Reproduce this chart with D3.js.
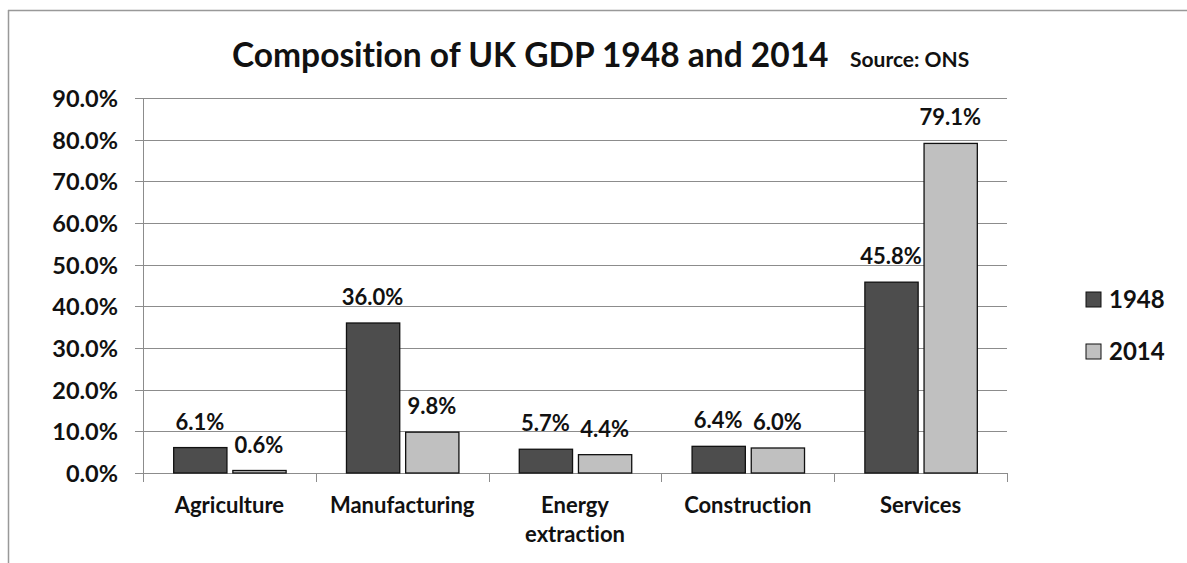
<!DOCTYPE html>
<html>
<head>
<meta charset="utf-8">
<script src="https://cdn.jsdelivr.net/npm/d3@7"></script>
<style>
  body { margin: 0; background: #fff; }
  svg text { font-family: Lato, "Open Sans", sans-serif; font-weight: bold; fill: #111; font-variant-ligatures: none; }
</style>
</head>
<body>
<svg id="chart" width="1187" height="563"></svg>
<script>
// data
var categories = ['Agriculture', 'Manufacturing', 'Energy extraction', 'Construction', 'Services']
var years = ['1948', '2014']
var values1948 = [6.1, 36.0, 5.7, 6.4, 45.8]
var values2014 = [0.6, 9.8, 4.4, 6.0, 79.1]
var yTicks = [0, 10, 20, 30, 40, 50, 60, 70, 80, 90]

var color = {'1948': '#4d4d4d', '2014': '#c0c0c0'}
var series = {'1948': values1948, '2014': values2014}

var svg = d3.select('#chart')

// frame lines (top and left only, like the source image crop)
svg.append('line').attr('x1', 8).attr('x2', 1187).attr('y1', 10.5).attr('y2', 10.5)
  .attr('stroke', '#999').attr('stroke-width', 1.5)
svg.append('line').attr('x1', 8.5).attr('x2', 8.5).attr('y1', 10).attr('y2', 563)
  .attr('stroke', '#999').attr('stroke-width', 1.5)

var plotLeft = 143, plotRight = 1007, plotTop = 98, plotBottom = 473

var x = d3.scaleBand().domain(categories).range([plotLeft, plotRight])
var xi = d3.scaleBand().domain(years).range([0, x.bandwidth()]).paddingInner(0.1).paddingOuter(0.51)
var y = d3.scaleLinear().domain([0, 90]).range([plotBottom, plotTop])

// gridlines
svg.append('g').selectAll('line').data(yTicks).join('line')
  .attr('x1', plotLeft - 8).attr('x2', plotRight)
  .attr('y1', d => Math.round(y(d)) + 0.5).attr('y2', d => Math.round(y(d)) + 0.5)
  .attr('stroke', '#8c8c8c').attr('stroke-width', 1)

// y axis line
svg.append('line').attr('x1', plotLeft + 0.5).attr('x2', plotLeft + 0.5).attr('y1', plotTop).attr('y2', plotBottom + 9)
  .attr('stroke', '#8c8c8c')

// category ticks
svg.append('g').selectAll('line').data(categories).join('line')
  .attr('x1', d => Math.round(x(d) + x.bandwidth()) + 0.5).attr('x2', d => Math.round(x(d) + x.bandwidth()) + 0.5)
  .attr('y1', plotBottom).attr('y2', plotBottom + 9)
  .attr('stroke', '#8c8c8c')

// y tick labels
svg.append('g').selectAll('text').data(yTicks).join('text')
  .attr('x', 118).attr('y', d => y(d) + 9)
  .attr('text-anchor', 'end').style('font-size', '23.5px')
  .text(d => d.toFixed(1) + '%')

// bars
var g = svg.append('g').selectAll('g').data(categories).join('g')
  .attr('transform', d => 'translate(' + x(d) + ',0)')

g.selectAll('rect').data((c, i) => years.map(yr => ({year: yr, value: series[yr][i]}))).join('rect')
  .attr('x', d => xi(d.year) + 0.5)
  .attr('width', xi.bandwidth())
  .attr('y', d => y(d.value))
  .attr('height', d => plotBottom - y(d.value))
  .attr('fill', d => color[d.year])
  .attr('stroke', '#111').attr('stroke-width', 1.3)

g.selectAll('text.perc').data((c, i) => years.map(yr => ({year: yr, value: series[yr][i]}))).join('text')
  .attr('class', 'perc')
  .attr('x', d => xi(d.year) + xi.bandwidth() / 2)
  .attr('y', d => y(d.value) - 18)
  .attr('text-anchor', 'middle').style('font-size', '22px')
  .text(d => d.value.toFixed(1) + '%')

// category labels
svg.append('g').selectAll('text').data(categories).join('text')
  .attr('x', d => x(d) + x.bandwidth() / 2)
  .attr('y', 513)
  .attr('text-anchor', 'middle').style('font-size', '22px')
  .each(function (d) {
    var words = d === 'Energy extraction' ? d.split(' ') : [d]
    d3.select(this).selectAll('tspan').data(words).join('tspan')
      .attr('x', x(d) + x.bandwidth() / 2)
      .attr('dy', (w, k) => k === 0 ? 0 : 29)
      .text(w => w)
  })

// title
svg.append('text').attr('x', 232).attr('y', 67).style('font-size', '33.5px').text('Composition of UK GDP 1948 and 2014')
svg.append('text').attr('x', 850).attr('y', 67).style('font-size', '21px').text('Source: ONS')

// legend
var leg = svg.append('g').selectAll('g').data(years).join('g')
  .attr('transform', (d, i) => 'translate(1086,' + (292 + i * 52) + ')')
leg.append('rect').attr('width', 15).attr('height', 15)
  .attr('fill', d => color[d]).attr('stroke', '#111')
leg.append('text').attr('x', 23).attr('y', 16).style('font-size', '24px').text(d => d)
</script>
</body>
</html>
